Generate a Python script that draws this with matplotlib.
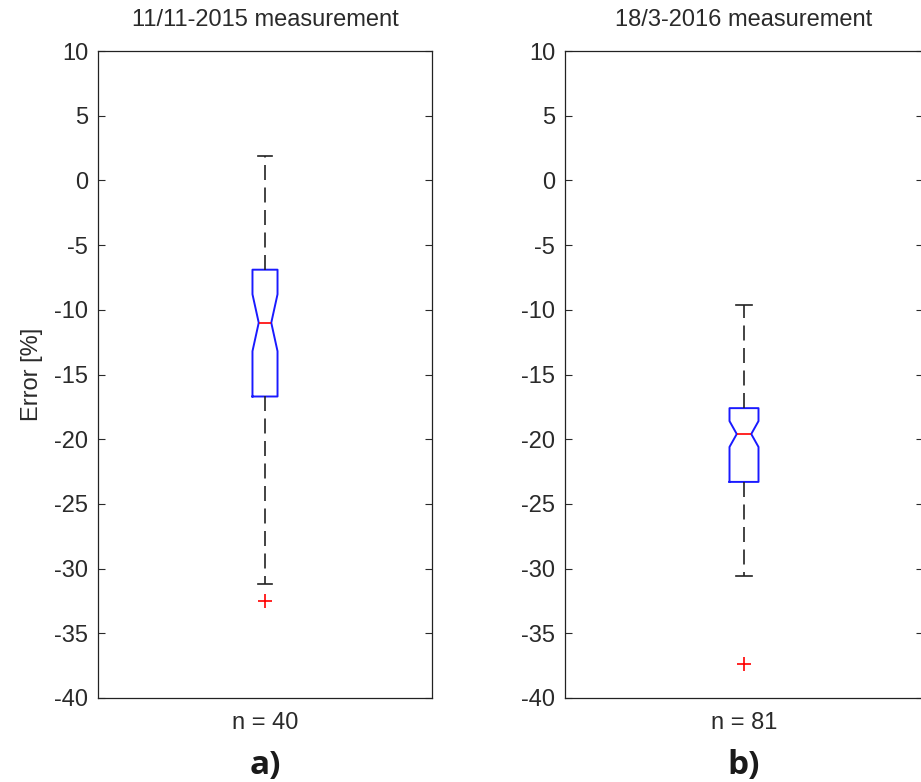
import matplotlib
matplotlib.use('Agg')
import matplotlib.pyplot as plt

# values
titles = ['11/11-2015 measurement', '18/3-2016 measurement']
n_labels = ['n = 40', 'n = 81']
panel_labels = ['a)', 'b)']
medians = [-11.0, -19.6]
q1 = [-16.7, -23.3]
q3 = [-6.9, -17.6]
whis_lo = [-31.2, -30.6]
whis_hi = [1.9, -9.6]
outliers = [[-32.5], [-37.4]]
notch_lo = [-13.2, -20.6]
notch_hi = [-8.8, -18.6]
yticks = [10, 5, 0, -5, -10, -15, -20, -25, -30, -35, -40]

plt.rcParams['font.family'] = ['Liberation Sans', 'DejaVu Sans']
text_col = '#2a2a2a'

fig = plt.figure(figsize=(9.21, 7.82), dpi=100)
positions = [[98 / 921, 84 / 782, 334 / 921, 647 / 782],
             [565 / 921, 84 / 782, 358 / 921, 647 / 782]]
box_widths = [0.075, 0.081]

for i in range(2):
    ax = fig.add_axes(positions[i])
    stats = [dict(med=medians[i], q1=q1[i], q3=q3[i], whislo=whis_lo[i],
                  whishi=whis_hi[i], fliers=outliers[i],
                  cilo=notch_lo[i], cihi=notch_hi[i])]
    ax.bxp(stats, positions=[1], widths=box_widths[i], shownotches=True,
           capwidths=box_widths[i] * 0.55,
           boxprops=dict(color='#1a1aff', linewidth=1.4),
           medianprops=dict(color='#ff0000', linewidth=1.2),
           whiskerprops=dict(color='#222222', linewidth=1.2, dashes=(9, 4.5)),
           capprops=dict(color='#222222', linewidth=1.2),
           flierprops=dict(marker='+', markeredgecolor='#ff0000',
                           markersize=10, markeredgewidth=1.2, linestyle='none'))
    ax.set_xlim(0.5, 1.5)
    ax.set_ylim(-40, 10)
    ax.set_yticks(yticks)
    ax.set_yticklabels([str(t) for t in yticks])
    ax.set_xticks([1])
    ax.set_xticklabels([n_labels[i]])
    ax.tick_params(axis='y', direction='in', length=5, width=0.8, right=True,
                   labelsize=17, colors=text_col, pad=7)
    ax.tick_params(axis='x', length=0, labelsize=17, colors=text_col, pad=10)
    for s in ax.spines.values():
        s.set_linewidth(0.9)
        s.set_color('#222222')
    ax.set_title(titles[i], fontsize=17, color=text_col, pad=18)
    if i == 0:
        ax.set_ylabel('Error [%]', fontsize=17, color=text_col, labelpad=8)
    ax.text(0.5, -0.105, panel_labels[i], transform=ax.transAxes, ha='center',
            va='center', fontsize=24, fontweight='bold', color='#1a1a1a',
            family=['Open Sans', 'DejaVu Sans'])

fig.savefig('out.png', dpi=100)
